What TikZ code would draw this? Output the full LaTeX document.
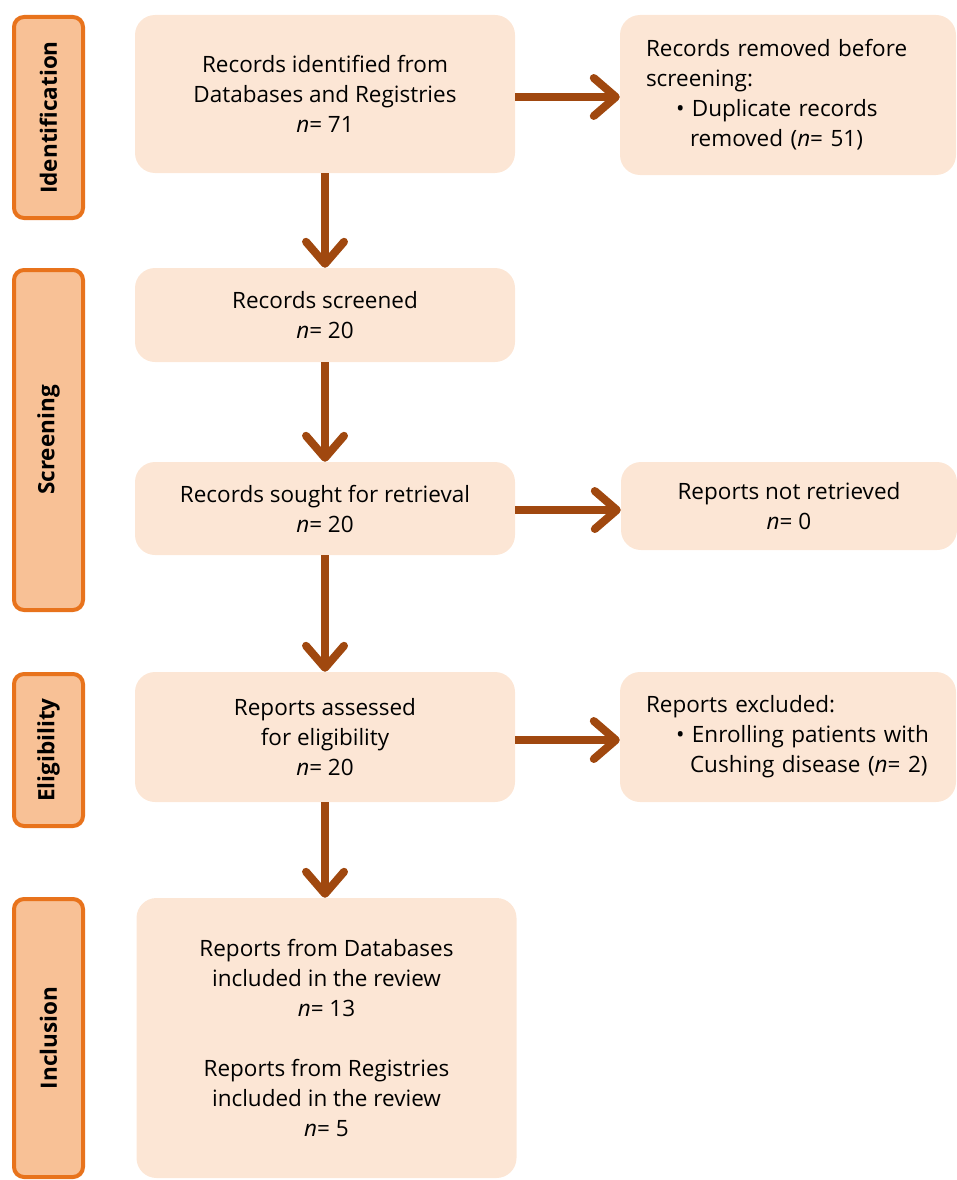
\documentclass[tikz,border=0pt]{standalone}
\usepackage{fontspec}
\setmainfont{Open Sans}
\usetikzlibrary{arrows.meta}
\definecolor{boxfill}{HTML}{FCE6D5}
\definecolor{phasefill}{HTML}{F8C196}
\definecolor{phaseline}{HTML}{E8731C}
\definecolor{flowbrown}{HTML}{A0480F}

\begin{document}
\begin{tikzpicture}[x=1pt,y=1pt]
\tikzstyle{every node}+=[inner sep=0pt]
\tikzstyle{box}=[fill=boxfill, rounded corners=20pt, align=center, minimum width=380pt, font=\fontsize{22.5}{30}\selectfont]
\tikzstyle{sidebox}=[fill=boxfill, rounded corners=20pt, minimum width=336pt, font=\fontsize{22.5}{30}\selectfont]
\tikzstyle{phase}=[draw=phaseline, line width=4pt, fill=phasefill, rounded corners=10pt, rotate=90, minimum height=69pt, font=\bfseries\fontsize{22.5}{24}\selectfont]
\tikzstyle{flow}=[draw=flowbrown, line width=8pt, -{Straight Barb[length=22pt,width=38pt,round]}]
\useasboundingbox (0,0) rectangle (957,-1180);
% phases
\node [phase, minimum width=201pt] (ident) at (48.5,-117.5) {Identification};
\node [phase, minimum width=340pt] (screen) at (48.5,-440) {Screening};
\node [phase, minimum width=152pt] (elig) at (48.5,-750) {Eligibility};
\node [phase, minimum width=278pt] (incl) at (48.5,-1038) {Inclusion};
% main column
\node [box, minimum height=158pt] (identified) at (325,-94) {Records identified from\\Databases and Registries\\\textit{n}= 71};
\node [box, minimum height=94pt] (screened) at (325,-315) {Records screened\\\textit{n}= 20};
\node [box, minimum height=93pt] (sought) at (325,-508.5) {Records sought for retrieval\\\textit{n}= 20};
\node [box, minimum height=130pt] (assessed) at (325,-737) {Reports assessed\\for eligibility\\\textit{n}= 20};
\node [box, minimum height=280pt] (included) at (326.5,-1038) {Reports from Databases\\included in the review\\\textit{n}= 13\\[30pt]Reports from Registries\\included in the review\\\textit{n}= 5};
% right column
\node [sidebox, minimum height=160pt, text width=284pt, inner xsep=26pt, align=left] (removed) at (788,-95) {Records removed before\\screening:\\\hspace*{30pt}\textbullet\ Duplicate records\\\hspace*{44pt}removed (\textit{n}= 51)};
\node [sidebox, minimum height=88pt, align=center] (notretr) at (789,-506) {Reports not retrieved\\\textit{n}= 0};
\node [sidebox, minimum height=130pt, text width=284pt, inner xsep=26pt, align=left] (excluded) at (788,-737) {Reports excluded:\\\hspace*{30pt}\textbullet\ Enrolling patients with\\\hspace*{44pt}Cushing disease (\textit{n}= 2)};
% arrows
\draw [flow] (identified.south) -- (screened.north);
\draw [flow] (screened.south) -- (sought.north);
\draw [flow] (sought.south) -- (assessed.north);
\draw [flow] (assessed.south) -- (assessed.south |- included.north);
\draw [flow] ([yshift=-3pt]identified.east) -- ([yshift=-3pt]identified.east -| removed.west);
\draw [flow] ([yshift=-1.5pt]sought.east) -- ([yshift=-1.5pt]sought.east -| notretr.west);
\draw [flow] ([yshift=-3pt]assessed.east) -- ([yshift=-3pt]assessed.east -| excluded.west);
\end{tikzpicture}
\end{document}
